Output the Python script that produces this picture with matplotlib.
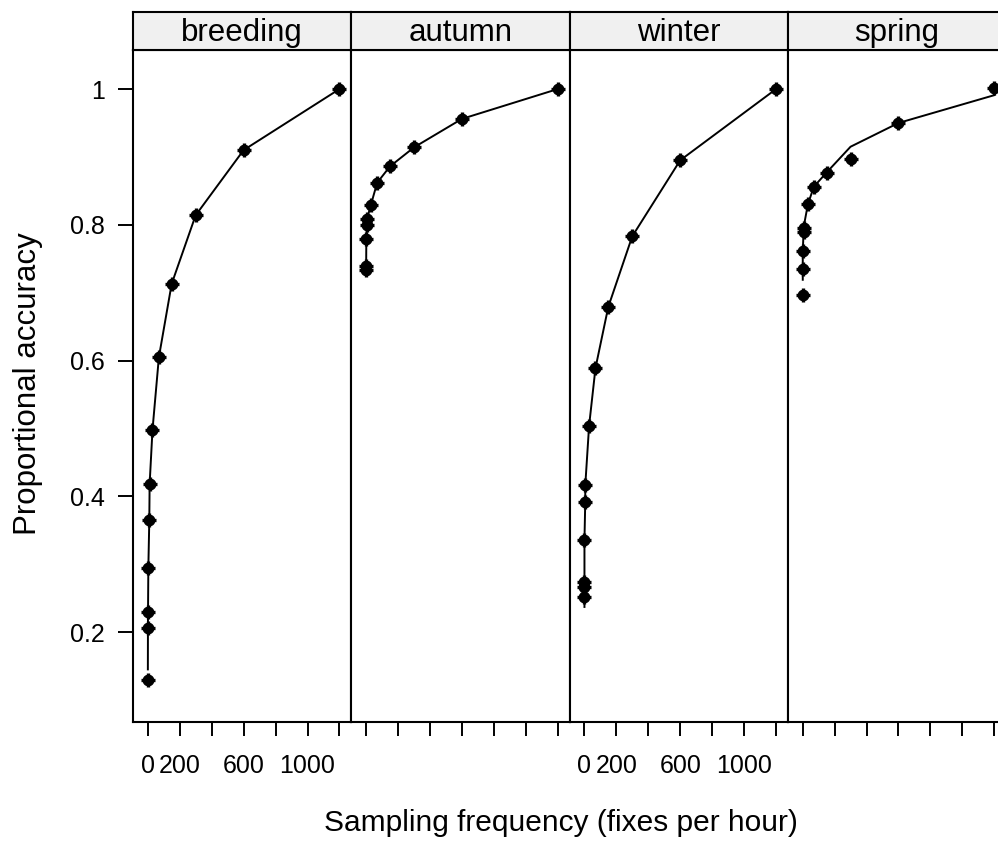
import numpy as np
import matplotlib
matplotlib.use("Agg")
import matplotlib.pyplot as plt

plt.rcParams['font.family'] = ['Liberation Sans', 'DejaVu Sans']

seasons = ['breeding', 'autumn', 'winter', 'spring']

# sampling frequency (fixes per hour), observed accuracy, fitted line
breeding_x = [1200, 600, 300, 150, 70, 30, 12, 10, 4, 2, 1.5, 1]
breeding_y = [1.0, 0.91, 0.814, 0.713, 0.605, 0.498, 0.418, 0.365, 0.295, 0.23, 0.206, 0.129]
breeding_fit = [1.0, 0.91, 0.814, 0.713, 0.605, 0.498, 0.418, 0.365, 0.295, 0.23, 0.206, 0.145]

autumn_x = [1200, 600, 300, 150, 70, 30, 6, 6, 2, 1, 1]
autumn_y = [1.0, 0.956, 0.914, 0.886, 0.862, 0.829, 0.808, 0.80, 0.779, 0.739, 0.733]
autumn_fit = [1.0, 0.956, 0.914, 0.886, 0.862, 0.829, 0.808, 0.80, 0.779, 0.739, 0.739]

winter_x = [1200, 600, 300, 150, 70, 30, 6, 6, 1, 1, 1, 1]
winter_y = [1.0, 0.895, 0.783, 0.679, 0.589, 0.504, 0.416, 0.392, 0.336, 0.274, 0.266, 0.251]
winter_fit = [1.0, 0.895, 0.783, 0.679, 0.589, 0.504, 0.416, 0.392, 0.336, 0.274, 0.26, 0.237]

spring_x = [1200, 600, 300, 150, 70, 33, 6, 6, 1, 1, 1]
spring_y = [1.001, 0.95, 0.897, 0.877, 0.856, 0.830, 0.796, 0.789, 0.761, 0.735, 0.696]
spring_fit = [0.991, 0.95, 0.915, 0.877, 0.856, 0.830, 0.796, 0.789, 0.761, 0.735, 0.719]

data = {
    'breeding': (breeding_x, breeding_y, breeding_fit),
    'autumn': (autumn_x, autumn_y, autumn_fit),
    'winter': (winter_x, winter_y, winter_fit),
    'spring': (spring_x, spring_y, spring_fit),
}

xticks = [0, 200, 400, 600, 800, 1000, 1200]
xticklabels = ['0', '200', '', '600', '', '1000', '']
yticks = [0.2, 0.4, 0.6, 0.8, 1.0]
yticklabels = ['0.2', '0.4', '0.6', '0.8', '1']

W, H = 998, 841
fig = plt.figure(figsize=(W / 100, H / 100), dpi=100)

left, pw = 133, 218.3
ptop, pbot = 50, 722
stop = 12

for i, s in enumerate(seasons):
    x0 = left + i * pw
    ax = fig.add_axes([x0 / W, (H - pbot) / H, pw / W, (pbot - ptop) / H])
    xs, ys, fit = data[s]
    ax.plot(xs, fit, color='black', lw=1.4, zorder=2)
    ax.plot(xs, ys, 'o', color='black', ms=7.5, zorder=3)
    ax.plot(xs, ys, '+', color='black', ms=10.5, mew=2.4, zorder=3)
    ax.set_xlim(-92, 1274)
    ax.set_ylim(0.0675, 1.0575)
    ax.set_xticks(xticks)
    if i % 2 == 0:
        ax.set_xticklabels(xticklabels)
    else:
        ax.set_xticklabels([])
    ax.tick_params(axis='x', direction='out', length=10, width=1.4, pad=13, labelsize=18)
    if i == 0:
        ax.set_yticks(yticks)
        ax.set_yticklabels(yticklabels)
        ax.tick_params(axis='y', direction='out', length=10.5, width=1.4, pad=10, labelsize=18)
    else:
        ax.set_yticks([])
    for sp in ax.spines.values():
        sp.set_linewidth(1.5)

    sax = fig.add_axes([x0 / W, (H - ptop) / H, pw / W, (ptop - stop) / H])
    sax.set_facecolor('#f0f0f0')
    sax.set_xticks([])
    sax.set_yticks([])
    for sp in sax.spines.values():
        sp.set_linewidth(1.5)
    sax.text(0.5, 0.45, s, ha='center', va='center', fontsize=22.5, transform=sax.transAxes)

fig.text(28 / W, 1 - 384 / H, 'Proportional accuracy', rotation=90,
         ha='center', va='center', fontsize=22.5)
fig.text(561 / W, 1 - 823 / H, 'Sampling frequency (fixes per hour)',
         ha='center', va='center', fontsize=21.5)

fig.savefig('out.png', dpi=100)
